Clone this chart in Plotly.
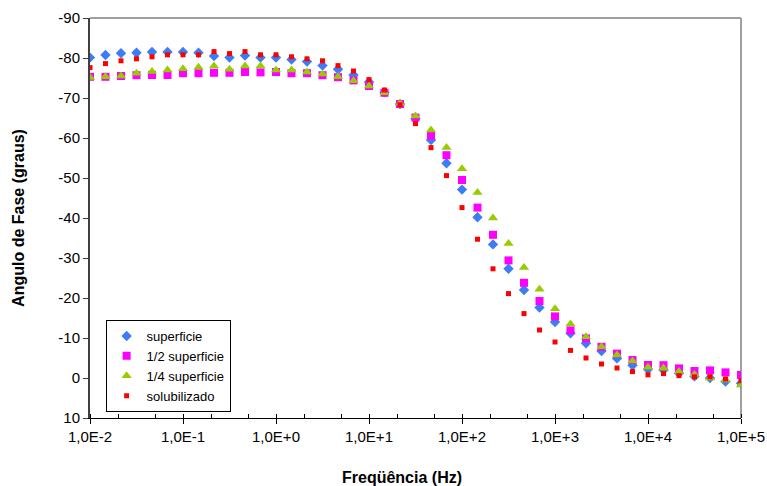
import plotly.graph_objects as go

# Frequencies: 6 points per decade from 1e-2 to 1e5
exponents = [-2 + k / 6 for k in range(43)]
freq = [10 ** e for e in exponents]

superficie = [-80.1, -80.75, -81.2, -81.3, -81.5, -81.5, -81.5, -81.3, -80.5, -80.1,
              -80.6, -80.1, -80.1, -79.6, -79.1, -78.1, -77.2, -75.75, -74.0, -71.4,
              -68.5, -64.8, -59.5, -53.7, -47.1, -40.2, -33.4, -27.3, -22.0, -17.6,
              -14.0, -11.2, -8.7, -6.75, -4.9, -3.2, -2.2, -2.0, -1.2, -0.4,
              0.0, 0.9, 1.3]
metade = [-75.3, -75.3, -75.5, -75.7, -75.75, -75.75, -76.2, -76.2, -76.3, -76.3,
          -76.5, -76.4, -76.5, -76.2, -76.2, -75.7, -75.2, -74.4, -73.0, -71.3,
          -68.5, -65.1, -60.6, -55.7, -49.5, -42.6, -35.8, -29.4, -23.8, -19.25,
          -15.4, -11.9, -9.9, -7.8, -6.1, -4.5, -3.25, -3.2, -2.4, -1.75,
          -1.9, -1.4, -0.75]
quarto = [-75.1, -75.3, -75.5, -76.2, -76.6, -77.0, -77.3, -77.7, -78.0, -77.2,
          -78.0, -78.0, -77.0, -77.0, -76.5, -76.0, -75.3, -74.3, -73.0, -71.3,
          -68.6, -65.5, -62.0, -57.6, -52.3, -46.4, -40.0, -33.6, -27.6, -22.2,
          -17.3, -13.5, -10.3, -7.8, -5.75, -4.25, -2.7, -2.5, -1.6, -0.9,
          0.0, 0.5, 1.75]
solubilizado = [-77.6, -78.6, -79.3, -79.8, -80.3, -80.8, -80.8, -80.8, -81.6, -81.1,
                -81.6, -80.8, -80.8, -80.3, -79.8, -79.3, -78.1, -76.75, -74.6, -72.0,
                -68.3, -63.6, -57.6, -50.6, -42.6, -34.7, -27.3, -21.1, -16.1, -12.0,
                -9.0, -6.9, -5.0, -3.5, -2.5, -1.6, -0.8, -1.1, -0.6, -0.3,
                -0.3, 0.25, 0.7]

x_tickvals = [1e-2, 1e-1, 1e0, 1e1, 1e2, 1e3, 1e4, 1e5]
x_ticktext = ["1,0E-2", "1,0E-1", "1,0E+0", "1,0E+1", "1,0E+2", "1,0E+3", "1,0E+4", "1,0E+5"]
y_tickvals = [-90, -80, -70, -60, -50, -40, -30, -20, -10, 0, 10]
y_ticktext = ["-90", "-80", "-70", "-60", "-50", "-40", "-30", "-20", "-10", "0", "10"]

FONT = "Liberation Sans, Arial, sans-serif"

fig = go.Figure()
fig.add_trace(go.Scatter(x=freq, y=superficie, mode="markers", name="superficie", legendgroup="a",
                         marker=dict(symbol="diamond", size=8, color="#3C7DF5")))
fig.add_trace(go.Scatter(x=freq, y=metade, mode="markers", name="1/2 superficie", legendgroup="b",
                         marker=dict(symbol="square", size=8, color="#FF00FF")))
fig.add_trace(go.Scatter(x=freq, y=quarto, mode="markers", name="1/4 superficie", legendgroup="c",
                         marker=dict(symbol="triangle-up", size=9, color="#99CC00")))
fig.add_trace(go.Scatter(x=freq, y=solubilizado, mode="markers", name="solubilizado", legendgroup="d",
                         marker=dict(symbol="square", size=5, color="#FF0000")))

fig.update_layout(
    width=767, height=486,
    margin=dict(l=90, r=26, t=18, b=68),
    paper_bgcolor="white", plot_bgcolor="white",
    font=dict(family=FONT, color="black", size=15),
    showlegend=True,
    legend=dict(x=0.024, y=0.245, xanchor="left", yanchor="top",
                bordercolor="black", borderwidth=1, bgcolor="white",
                font=dict(size=13, family=FONT), tracegroupgap=0,
                itemsizing="trace", itemwidth=30),
    xaxis=dict(type="log", range=[-2, 5], tickvals=x_tickvals, ticktext=x_ticktext,
               automargin=False,
               showgrid=False, zeroline=False, showline=True, linecolor="black", linewidth=1,
               ticks="outside", ticklen=5, tickcolor="black",
               minor=dict(ticks="inside", ticklen=4, tickcolor="black", showgrid=False),
               tickfont=dict(size=15)),
    yaxis=dict(range=[10, -90], tickvals=y_tickvals, ticktext=y_ticktext,
               automargin=False, showgrid=False, zeroline=False,
               showline=True, linecolor="#404040", linewidth=2,
               ticks="outside", ticklen=5, tickcolor="#404040",
               tickfont=dict(size=15),
               title=dict(text="<b>Angulo de Fase (graus)</b>", font=dict(size=16), standoff=30)),
    annotations=[dict(text="<b>Freqüência (Hz)</b>", xref="paper", yref="paper",
                      x=0.479, y=-0.1475, xanchor="center", yanchor="middle",
                      showarrow=False, font=dict(size=16, family=FONT))],
)

# gray top and right frame lines of the plot area
fig.add_shape(type="line", xref="paper", yref="paper", x0=0, x1=1, y0=1, y1=1,
              line=dict(color="#A0A0A0", width=2), layer="below")
fig.add_shape(type="line", xref="paper", yref="paper", x0=1, x1=1, y0=0, y1=1,
              line=dict(color="#A0A0A0", width=2), layer="below")

# remove the default page margin so the figure fills the window exactly
fig.write_html("out.html",
               config={"displayModeBar": False},
               post_script="document.body.style.margin='0';document.body.style.overflow='hidden';")
